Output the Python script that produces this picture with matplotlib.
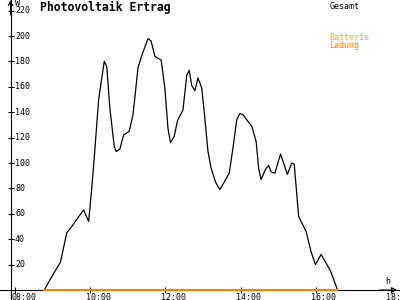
import matplotlib
matplotlib.use('Agg')
import matplotlib.pyplot as plt

# Gesamt (W)
times = ["08:46", "08:54", "09:01", "09:12", "09:22", "09:30", "09:37", "09:49", "09:57", "10:02",
         "10:06", "10:13", "10:22", "10:26", "10:31", "10:38", "10:41", "10:47", "10:53", "11:02",
         "11:08", "11:16", "11:23", "11:32", "11:37", "11:43", "11:53", "11:59", "12:04", "12:08",
         "12:14", "12:19", "12:28", "12:34", "12:38", "12:42", "12:47", "12:52", "12:58", "13:02",
         "13:08", "13:13", "13:20", "13:27", "13:34", "13:42", "13:48", "13:54", "13:59", "14:04",
         "14:10", "14:18", "14:25", "14:29", "14:33", "14:40", "14:45", "14:49", "14:55", "15:04",
         "15:09", "15:15", "15:22", "15:26", "15:33", "15:38", "15:45", "15:53", "16:00", "16:09",
         "16:16", "16:24", "16:33", "16:35"]
gesamt = [0, 7, 13, 22, 45, 50, 55, 63, 54, 80,
          104, 150, 180, 176, 143, 113, 109, 111, 122, 125,
          138, 175, 186, 198, 196, 184, 181, 159, 127, 116,
          121, 133, 142, 169, 173, 161, 157, 167, 159, 140,
          109, 96, 85, 79, 85, 92, 112, 134, 139, 138,
          134, 129, 117, 96, 87, 95, 98, 93, 92, 107,
          100, 91, 100, 99, 58, 53, 46, 30, 20, 28,
          22, 15, 3, 0]

# Ladung stays at zero the whole time
ladung_times = ["08:46", "16:35"]
ladung = [0, 0]

yticks = [20, 40, 60, 80, 100, 120, 140, 160, 180, 200, 220]
xticks = [8, 10, 12, 14, 16, 18]
xlabels = ["08:00", "10:00", "12:00", "14:00", "16:00", "18:00"]


def to_h(s):
    h, m = s.split(':')
    return int(h) + int(m) / 60


MONO = 'DejaVu Sans Mono'
YAX = 7.867  # where the y axis crosses

fig = plt.figure(figsize=(4, 3), dpi=100)
ax = fig.add_axes([0, 0, 1, 1])
ax.set_xlim(7.5867, 18.2533)
ax.set_ylim(-7.874, 228.35)

for s in ['top', 'right']:
    ax.spines[s].set_visible(False)
ax.spines['left'].set_position(('data', YAX))
ax.spines['bottom'].set_position(('data', 0))
ax.spines['left'].set_linewidth(0.8)
ax.spines['bottom'].set_linewidth(0.8)
ax.set_xticks(xticks)
ax.set_yticks(yticks)
ax.tick_params(direction='inout', length=4.5, width=0.8,
               labelleft=False, labelbottom=False)

# arrow heads
ax.annotate('', xy=(0.993, 0), xycoords=ax.get_yaxis_transform(),
            xytext=(0.95, 0), textcoords=ax.get_yaxis_transform(),
            arrowprops=dict(arrowstyle='->', lw=0.8, color='black',
                            shrinkA=0, shrinkB=0, mutation_scale=8))
ax.annotate('', xy=(YAX, 1.0), xycoords=ax.get_xaxis_transform(),
            xytext=(YAX, 0.95), textcoords=ax.get_xaxis_transform(),
            arrowprops=dict(arrowstyle='->', lw=0.8, color='black',
                            shrinkA=0, shrinkB=0, mutation_scale=8))

for v in yticks:
    ax.text(YAX + 0.12, v, str(v), ha='left', va='center', fontsize=6, family=MONO)
for t, lab in zip(xticks, xlabels):
    ax.text(t - 0.107, -2.4, lab, ha='left', va='top', fontsize=6, family=MONO, clip_on=False)

ax.plot([to_h(t) for t in times], gesamt, color='black', lw=0.9, zorder=3)
ax.plot([to_h(t) for t in ladung_times], ladung, color='#FF8000', lw=1.5, zorder=4)

fig.text(39.5 / 400, 1 - 10.7 / 300, 'Photovoltaik Ertrag', fontsize=8.3,
         fontweight='bold', family=MONO, va='baseline')
fig.text(15 / 400, 1 + 1 / 300, 'W', fontsize=6, family=MONO, va='top')
fig.text(385 / 400, 1 - 284 / 300, 'h', fontsize=6, family=MONO, va='baseline')
fig.text(329.5 / 400, 1 - 2 / 300, 'Gesamt', fontsize=6, family=MONO, va='top')
fig.text(329.5 / 400, 1 - 32.7 / 300, 'Batterie', fontsize=6, family=MONO, va='top', color='#FFAA00')
fig.text(329.5 / 400, 1 - 40.7 / 300, 'Ladung', fontsize=6, family=MONO, va='top', color='#FF8000')

fig.savefig('out.png', dpi=100)
